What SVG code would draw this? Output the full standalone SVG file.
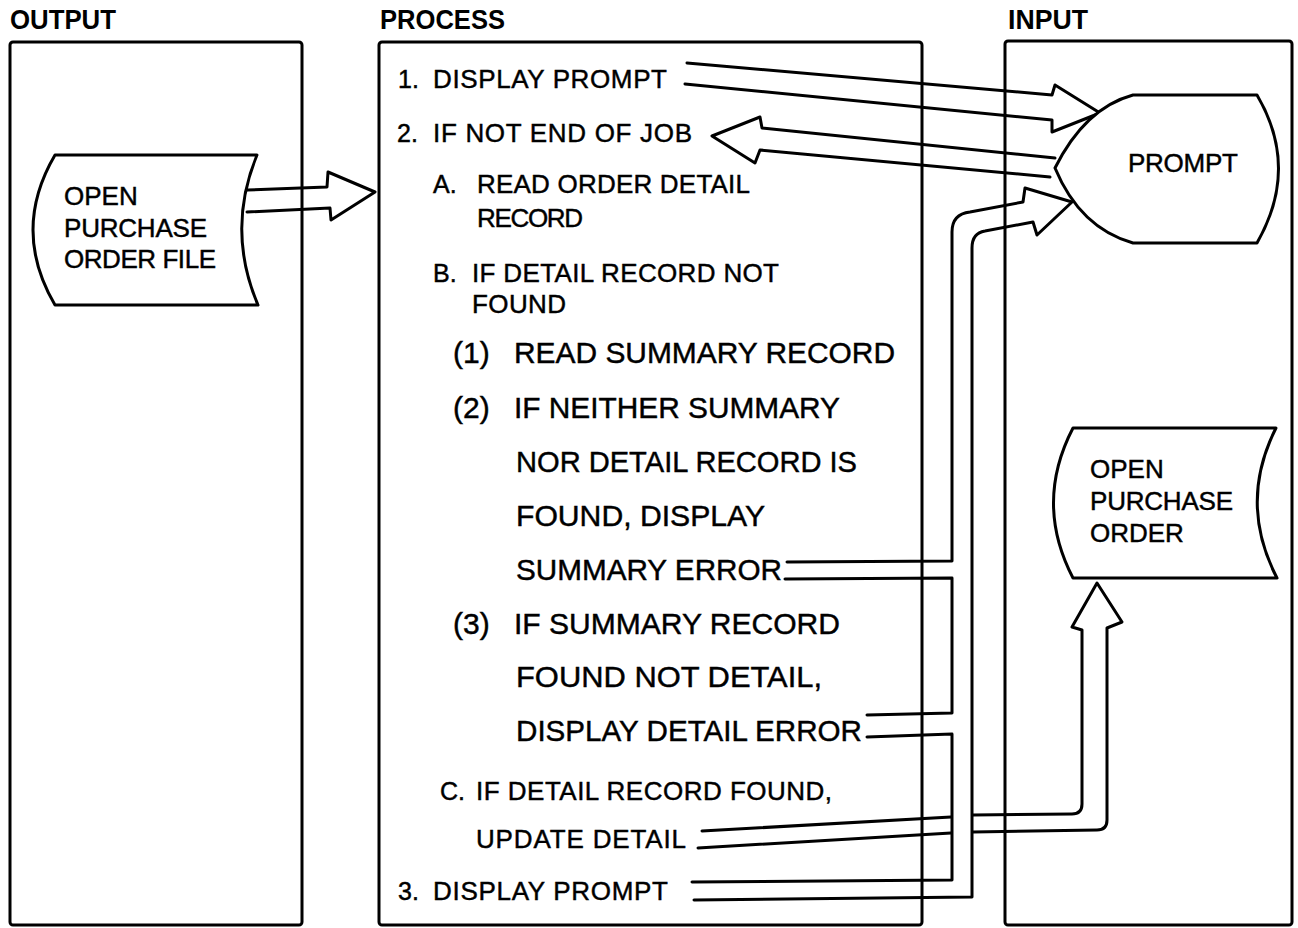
<svg xmlns="http://www.w3.org/2000/svg" width="1298" height="928" viewBox="0 0 1298 928">
  <style>
    .box { fill: none; stroke: #000; stroke-width: 3; stroke-linejoin: round; }
    .shape { fill: #fff; stroke: #000; stroke-width: 3; stroke-linejoin: round; }
    .pipe { fill: none; stroke: #000; stroke-width: 3; stroke-linejoin: round; stroke-linecap: round; }
    .hdr { font-family: "Liberation Sans", Arial, sans-serif; font-weight: bold; font-size: 27px; fill: #000; }
    .t, .tl, .n { font-family: "Liberation Sans", Arial, sans-serif; fill: #000; stroke: #000; stroke-width: 0.45; }
    .t { font-size: 26px; }
    .tl { font-size: 30px; }
    .n { font-size: 25px; }
  </style>
  <rect width="1298" height="928" fill="#fff"/>

  <!-- column headings -->
  <g id="headings">
    <text class="hdr" x="10" y="29" textLength="106" lengthAdjust="spacingAndGlyphs">OUTPUT</text>
    <text class="hdr" x="380" y="29" textLength="125" lengthAdjust="spacingAndGlyphs">PROCESS</text>
    <text class="hdr" x="1008" y="29" textLength="80" lengthAdjust="spacingAndGlyphs">INPUT</text>
  </g>

  <!-- column frames -->
  <g id="output-column"><rect class="box" x="10" y="42" width="292" height="883" rx="3"/></g>
  <g id="process-column"><rect class="box" x="379" y="42" width="543" height="883" rx="3"/></g>
  <g id="input-column"><rect class="box" x="1005" y="41" width="287" height="884" rx="3"/></g>

  <!-- connectors (hollow pipe arrows) -->
  <g id="connectors">
    <!-- file -> process -->
    <path class="pipe" d="M247,190 L327,187 L328,172 L375,192 L331,220 L330,208 L247,212"/>
    <!-- 1. display prompt -> prompt -->
    <path class="pipe" d="M687,63 L1052,95 L1055,85 L1100,113 L1052,132 L1052,120 L685,84"/>
    <!-- prompt -> 2. if not end of job -->
    <path class="pipe" d="M1055,158 L762,128 L760,117 L712,136 L755,163 L760,150 L1050,177"/>
    <!-- error / prompt branches merged into one pipe -> prompt -->
    <path class="pipe" d="M787,562 L952,561 L952,232 Q952,214 970,212 L1023,202 L1025,188 L1072,202 L1037,235 L1033,222 L985,231 Q972,233 972,248 L972,897 L694,900"/>
    <path class="pipe" d="M785,579 L952,578 L952,713 L867,715"/>
    <path class="pipe" d="M867,737 L952,734 L952,880 L692,882"/>
    <!-- update detail -> open purchase order -->
    <path class="pipe" d="M702,831 L951,817"/>
    <path class="pipe" d="M698,848 L951,833"/>
    <path class="pipe" d="M973,815 L1072,814 Q1082,814 1082,804 L1082,630 L1072,627 L1097,583 L1122,622 L1107,628 L1107,820 Q1107,830 1097,830 L973,832"/>
  </g>

  <!-- output side file -->
  <g id="open-po-file">
    <path class="shape" d="M55,155 L257,155 Q226,230 258,305 L55,305 Q11,230 55,155 Z"/>
    <text class="t" x="64" y="205">OPEN</text>
    <text class="t" x="64" y="237" textLength="143" lengthAdjust="spacing">PURCHASE</text>
    <text class="t" x="64" y="268" textLength="152" lengthAdjust="spacing">ORDER FILE</text>
  </g>

  <!-- input side display -->
  <g id="prompt">
    <path class="shape" d="M1133,95 L1257,95 Q1300,168 1257,243 L1133,243 Q1080,228 1055,168 Q1085,108 1133,95 Z"/>
    <text class="t" x="1128" y="172" textLength="110" lengthAdjust="spacing">PROMPT</text>
  </g>

  <!-- input side file -->
  <g id="open-po">
    <path class="shape" d="M1073,428 L1276,428 Q1238,503 1277,578 L1073,578 Q1034,503 1073,428 Z"/>
    <text class="t" x="1090" y="478">OPEN</text>
    <text class="t" x="1090" y="510" textLength="143" lengthAdjust="spacing">PURCHASE</text>
    <text class="t" x="1090" y="542">ORDER</text>
  </g>

  <!-- process steps -->
  <g id="process-steps">
    <text class="n" x="398" y="88">1.</text>
    <text class="t" x="433" y="88" textLength="234" lengthAdjust="spacing">DISPLAY PROMPT</text>
    <text class="n" x="397" y="142">2.</text>
    <text class="t" x="433" y="142" textLength="259" lengthAdjust="spacing">IF NOT END OF JOB</text>
    <text class="n" x="433" y="193">A.</text>
    <text class="t" x="477" y="193" textLength="273" lengthAdjust="spacing">READ ORDER DETAIL</text>
    <text class="t" x="477" y="227" textLength="106" lengthAdjust="spacing">RECORD</text>
    <text class="n" x="433" y="282">B.</text>
    <text class="t" x="472" y="282" textLength="307" lengthAdjust="spacing">IF DETAIL RECORD NOT</text>
    <text class="t" x="472" y="313" textLength="94" lengthAdjust="spacing">FOUND</text>
    <text class="tl" x="453" y="363" font-size="28">(1)</text>
    <text class="tl" x="514" y="363" textLength="381" lengthAdjust="spacingAndGlyphs">READ SUMMARY RECORD</text>
    <text class="tl" x="453" y="418" font-size="28">(2)</text>
    <text class="tl" x="514" y="418" textLength="326" lengthAdjust="spacingAndGlyphs">IF NEITHER SUMMARY</text>
    <text class="tl" x="516" y="472" textLength="341" lengthAdjust="spacingAndGlyphs">NOR DETAIL RECORD IS</text>
    <text class="tl" x="516" y="526" textLength="249" lengthAdjust="spacingAndGlyphs">FOUND, DISPLAY</text>
    <text class="tl" x="516" y="580" textLength="266" lengthAdjust="spacingAndGlyphs">SUMMARY ERROR</text>
    <text class="tl" x="453" y="634" font-size="28">(3)</text>
    <text class="tl" x="514" y="634" textLength="326" lengthAdjust="spacingAndGlyphs">IF SUMMARY RECORD</text>
    <text class="tl" x="516" y="687" textLength="306" lengthAdjust="spacingAndGlyphs">FOUND NOT DETAIL,</text>
    <text class="tl" x="516" y="741" textLength="346" lengthAdjust="spacingAndGlyphs">DISPLAY DETAIL ERROR</text>
    <text class="n" x="440" y="800">C.</text>
    <text class="t" x="476" y="800" textLength="356" lengthAdjust="spacing">IF DETAIL RECORD FOUND,</text>
    <text class="t" x="476" y="848" textLength="210" lengthAdjust="spacing">UPDATE DETAIL</text>
    <text class="n" x="398" y="900">3.</text>
    <text class="t" x="433" y="900" textLength="235" lengthAdjust="spacing">DISPLAY PROMPT</text>
  </g>
</svg>
